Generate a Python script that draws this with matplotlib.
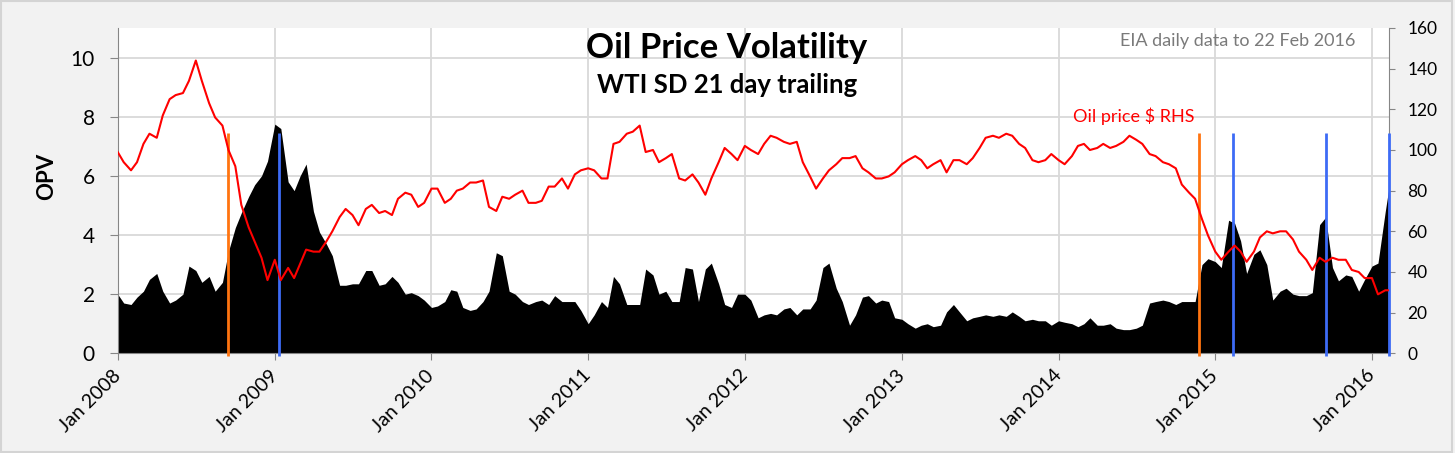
import numpy as np
import pandas as pd
import matplotlib
matplotlib.use('Agg')
import matplotlib.pyplot as plt
import matplotlib.dates as mdates
from matplotlib.patches import Rectangle

plt.rcParams['font.family'] = ['Lato', 'DejaVu Sans']

# half-monthly readings (1st and 15th of each month), last point 9 Feb 2016
opv_2008 = [2.0, 1.7, 1.65, 1.9, 2.1, 2.5, 2.7, 2.1, 1.7, 1.8, 2.0, 2.95, 2.8, 2.4, 2.6, 2.1, 2.4, 3.45, 4.25, 4.75, 5.3, 5.7, 6.0, 6.5]
opv_2009 = [7.75, 7.6, 5.8, 5.5, 6.0, 6.4, 4.8, 4.1, 3.7, 3.3, 2.3, 2.3, 2.35, 2.35, 2.8, 2.8, 2.3, 2.35, 2.6, 2.4, 2.0, 2.05, 1.95, 1.8]
opv_2010 = [1.55, 1.6, 1.75, 2.15, 2.1, 1.55, 1.45, 1.5, 1.75, 2.1, 3.4, 3.3, 2.1, 2.0, 1.75, 1.65, 1.75, 1.8, 1.65, 1.95, 1.75, 1.75, 1.75, 1.45]
opv_2011 = [1.0, 1.3, 1.75, 1.55, 2.6, 2.35, 1.65, 1.65, 1.65, 2.85, 2.65, 2.0, 2.1, 1.75, 1.75, 2.9, 2.85, 1.75, 2.85, 3.05, 2.35, 1.65, 1.55, 2.0]
opv_2012 = [2.0, 1.8, 1.2, 1.3, 1.35, 1.3, 1.5, 1.55, 1.3, 1.5, 1.5, 1.8, 2.9, 3.05, 2.2, 1.75, 0.95, 1.3, 1.9, 1.95, 1.7, 1.8, 1.75, 1.2]
opv_2013 = [1.15, 1.0, 0.85, 0.95, 1.0, 0.9, 0.95, 1.4, 1.65, 1.4, 1.1, 1.2, 1.25, 1.3, 1.25, 1.3, 1.25, 1.4, 1.25, 1.1, 1.15, 1.1, 1.1, 0.95]
opv_2014 = [1.1, 1.05, 1.0, 0.9, 1.0, 1.2, 0.95, 0.95, 1.0, 0.85, 0.8, 0.8, 0.85, 0.95, 1.7, 1.75, 1.8, 1.75, 1.65, 1.75, 1.75, 1.75, 3.0, 3.2]
opv_2015 = [3.1, 2.9, 4.5, 4.4, 3.8, 2.7, 3.35, 3.5, 3.0, 1.8, 2.1, 2.2, 2.0, 1.95, 1.95, 2.05, 4.35, 4.6, 2.9, 2.45, 2.65, 2.6, 2.1, 2.5]
opv_2016 = [2.95, 3.05, 4.8, 5.55]

price_2008 = [99, 94, 90, 94, 103, 108, 106, 117, 125, 127, 128, 134, 144, 134, 123, 116, 112, 100, 92, 73, 62, 55, 47, 36]
price_2009 = [46, 36, 42, 37, 44, 51, 50, 50, 55, 60, 67, 71, 68, 63, 71, 73, 69, 70, 68, 76, 79, 78, 72, 74]
price_2010 = [81, 81, 74, 76, 80, 81, 84, 84, 85, 72, 70, 77, 76, 78, 80, 74, 74, 75, 82, 82, 86, 81, 88, 90]
price_2011 = [91, 90, 86, 86, 103, 104, 108, 109, 112, 99, 100, 94, 96, 98, 86, 85, 88, 84, 78, 86, 94, 101, 98, 95]
price_2012 = [102, 100, 98, 103, 107, 106, 104, 103, 104, 94, 87, 81, 86, 90, 93, 96, 96, 97, 91, 89, 86, 86, 87, 89]
price_2013 = [93, 95, 97, 95, 91, 93, 95, 89, 95, 95, 93, 96, 101, 106, 107, 106, 108, 107, 103, 101, 95, 94, 95, 98]
price_2014 = [95, 93, 97, 102, 103, 100, 101, 103, 101, 102, 104, 107, 105, 103, 98, 97, 94, 93, 91, 83, 79, 76, 66, 58]
price_2015 = [50, 46, 50, 53, 50, 45, 50, 57, 60, 59, 60, 60, 56, 50, 46, 41, 47, 45, 47, 46, 46, 41, 40, 37]
price_2016 = [37, 29, 31, 31]

orange_events = ['2008-09-15', '2014-11-25']
blue_events = ['2009-01-10', '2015-02-12', '2015-09-15', '2016-02-09']

dates = list(pd.date_range('2008-01-01', '2016-02-01', freq='SMS')) + [pd.Timestamp('2016-02-09')]
opv = opv_2008 + opv_2009 + opv_2010 + opv_2011 + opv_2012 + opv_2013 + opv_2014 + opv_2015 + opv_2016
price = price_2008 + price_2009 + price_2010 + price_2011 + price_2012 + price_2013 + price_2014 + price_2015 + price_2016

W, H = 1455, 453
fig = plt.figure(figsize=(W / 100, H / 100), dpi=100, facecolor='#f2f2f2')
fig.patches.append(Rectangle((0.001, 0.002), 0.997, 0.995, transform=fig.transFigure,
                             fill=False, edgecolor='#d4d4d4', lw=1.5))

ax = fig.add_axes([117.7 / W, 1 - 353.3 / H, (1388.7 - 117.7) / W, (353.3 - 28) / H])
ax.set_facecolor('white')
ax.fill_between(dates, 0, opv, color='black', lw=0, zorder=2)
ax.set_ylim(0, 11)
ax.set_yticks([0, 2, 4, 6, 8, 10])
ax.set_xlim(pd.Timestamp('2008-01-01'), pd.Timestamp('2016-02-09'))
ax.xaxis.set_major_locator(mdates.YearLocator())
ax.xaxis.set_major_formatter(mdates.DateFormatter('Jan %Y'))
ax.grid(color='#d9d9d9', lw=1.3)
ax.set_axisbelow(True)
for s in ['top', 'right']:
    ax.spines[s].set_visible(False)
for s in ['left', 'bottom']:
    ax.spines[s].set_color('#868686')
ax.tick_params(axis='y', length=5.5, color='#868686', labelsize=15, pad=11)
ax.tick_params(axis='x', length=5, color='#868686', labelsize=14, pad=9)
for lab in ax.get_xticklabels():
    lab.set_rotation(45)
    lab.set_ha('right')
    lab.set_va('center')
    lab.set_rotation_mode('anchor')

ax2 = ax.twinx()
ax2.set_ylim(0, 160)
ax2.set_yticks(range(0, 161, 20))
for s in ['top', 'left', 'bottom']:
    ax2.spines[s].set_visible(False)
ax2.spines['right'].set_color('#868686')
ax2.tick_params(axis='y', length=4.5, color='#868686', labelsize=12.5, pad=9)

top = 7.45 / 11 * 160
ax2.vlines(pd.to_datetime(orange_events), -1.5, top, color='#ff7410', lw=2, zorder=3, clip_on=False)
ax2.vlines(pd.to_datetime(blue_events), -1.5, top, color='#3d6bf5', lw=2, zorder=3, clip_on=False)
ax2.plot(dates, price, color='#ff0000', lw=1.5, zorder=4)

fig.text(47 / W, 1 - 176 / H, 'OPV', rotation=90, ha='center', va='center', fontsize=16, fontweight='bold')
fig.text(726.5 / W, 1 - 58 / H, 'Oil Price Volatility', ha='center', va='baseline', fontsize=25, fontweight='bold')
fig.text(727 / W, 1 - 93 / H, 'WTI SD 21 day trailing', ha='center', va='baseline', fontsize=18.5, fontweight='bold')
fig.text(1355 / W, 1 - 46 / H, 'EIA daily data to 22 Feb 2016', ha='right', va='baseline', fontsize=13, color='#7a7a7a')
fig.text(1073 / W, 1 - 121.7 / H, 'Oil price $ RHS', ha='left', va='baseline', fontsize=13, color='#ff0000')

fig.savefig('out.png', dpi=100, facecolor=fig.get_facecolor())
